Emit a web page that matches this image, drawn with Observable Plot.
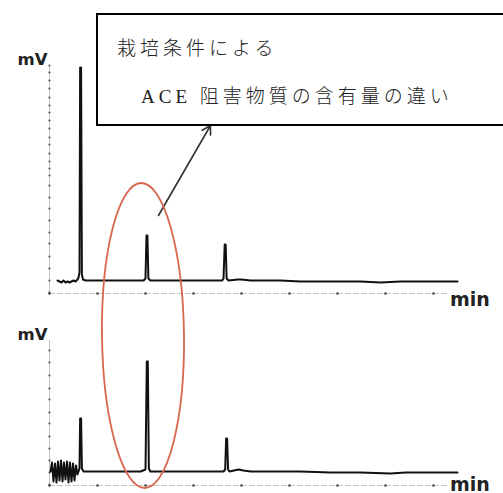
<!DOCTYPE html>
<html><head><meta charset="utf-8">
<script src="https://cdn.jsdelivr.net/npm/d3@7"></script>
<script src="https://cdn.jsdelivr.net/npm/@observablehq/plot@0.6"></script>
<style>
html,body{margin:0;padding:0;background:#fff;overflow:hidden;}
#wrap{position:relative;width:503px;height:493px;overflow:hidden;background:#fff;}
#wrap svg{position:absolute;left:0;overflow:visible;}
.box{position:absolute;left:96px;top:13px;width:420px;height:109px;border:2px solid #000;border-right:none;background:#fff;
 font-family:"Liberation Serif","Noto Sans CJK JP",serif;font-size:19px;font-weight:300;line-height:20px;color:#222;letter-spacing:4px;white-space:nowrap;}
.l1{position:absolute;left:19px;top:24px;}
.l2{position:absolute;left:43px;top:72px;}
</style></head>
<body><div id="wrap"></div>
<script>
// Retention time (min) and signal (mV, arbitrary) — upper chromatogram
const topT  = [0.167,0.208,0.25,0.292,0.333,0.375,0.417,0.458,0.5,0.542,0.583,0.604,0.625,0.638,0.658,0.675,0.698,0.75,1.06,1.48,1.96,2.0,2.02,2.04,2.06,2.1,2.73,3.6,3.625,3.65,3.67,3.69,3.73,3.92,4.0,4.19,4.81,5.23,5.85,6.48,6.9,7.31,7.73,8.15,8.5];
const topMV = [0,-1,-2,0,-2,-1,-2,-1,0,-1,1,3,8,213,213,6,1,0,0,0,0,2,45,45,2,0,0,0,2,36,36,2,0,1,1,0,0,-1,-1,-1,-2,-1,-1,-1,-1];
// Lower chromatogram
const botT  = [0.021,0.052,0.083,0.115,0.146,0.177,0.208,0.24,0.271,0.302,0.333,0.365,0.396,0.427,0.458,0.49,0.521,0.552,0.583,0.604,0.625,0.638,0.658,0.675,0.71,1.06,1.9,2.0,2.027,2.048,2.07,2.1,2.73,3.625,3.66,3.68,3.7,3.72,3.75,3.94,4.04,4.19,5.23,5.85,6.48,7.1,7.42,7.73,8.5];
const botMV = [0,9,-10,8,-11,10,-9,11,-10,9,-8,10,-11,9,-10,8,-9,6,-3,0,3,53,53,3,0,0,0,2,110,110,3,0,0,0,2,33,33,2,0,2,1,0,0,-1,-1,-2,-1,-1,-1];
// Axis tick positions (mV)
const topTicksY = [215,208,200,192,183,175,168,160,152,143,136,127,119,112,105,95,83,72,60,48,37,24,12,0,-12];
const botTicksY = [121,109,96,83,72,59,48,35,23,11,-1,-13];
const xTicks = [0,1,2,3,4,5,6,7,8];
const noteLine1 = "栽培条件による";
const noteLine2 = "ACE 阻害物質の含有量の違い";

const topData = topT.map((t,i)=>({t, v: topMV[i]}));
const botData = botT.map((t,i)=>({t, v: botMV[i]}));

function panel(data, ticksY, yDomain, yRange, height, minDy, minAnchor, extra) {
  const y0 = yDomain[0];
  return Plot.plot({
    width: 503, height,
    marginTop: 0, marginBottom: 0, marginLeft: 0, marginRight: 0,
    x: {domain: [0, 9.458], range: [49, 503], axis: null},
    y: {domain: yDomain, range: yRange, axis: null},
    style: {overflow: "visible", background: "transparent"},
    marks: [
      Plot.ruleX([0], {y1: y0, y2: yDomain[1], stroke: "#c4c4c4", strokeWidth: 1}),
      Plot.ruleY([y0], {x1: 0, x2: 8.3, stroke: "#c4c4c4", strokeWidth: 1, strokeDasharray: "6,2"}),
      Plot.dot(ticksY, {x: 0, y: d => d, r: 1.1, fill: "#555", stroke: null}),
      Plot.dot(xTicks, {x: d => d, y: y0, r: 1.3, fill: "#444", stroke: null}),
      Plot.line(data, {x: "t", y: "v", stroke: "#111", strokeWidth: 2, curve: "linear"}),
      Plot.text(["mV"], {x: 0, y: yDomain[1], dx: -17, dy: -6, fontFamily: "DejaVu Sans, sans-serif", fontWeight: "bold", fontSize: 16.5, fill: "#222", textAnchor: "middle"}),
      Plot.text(["min"], {x: 8.3, y: y0, dx: 22, dy: minDy, lineAnchor: minAnchor, fontFamily: "DejaVu Sans, sans-serif", fontWeight: "bold", fontSize: 19, fill: "#222", textAnchor: "middle"}),
      ...(extra || [])
    ]
  });
}

const wrap = document.getElementById("wrap");
const topPlot = panel(topData, topTicksY, [-13, 215], [293, 65], 300, 6, "middle", [
  Plot.arrow([{x1: 2.27, y1: 65, x2: 3.354, y2: 155}], {x1: "x1", y1: "y1", x2: "x2", y2: "y2", stroke: "#333", strokeWidth: 1.6, headLength: 9})
]);
topPlot.style.top = "0px";
const botPlot = panel(botData, botTicksY, [-14, 131], [185, 40], 193, 5, "bottom");
botPlot.style.top = "300px";
wrap.appendChild(topPlot);
wrap.appendChild(botPlot);

const box = document.createElement("div");
box.className = "box";
box.innerHTML = `<div class="l1"></div><div class="l2"></div>`;
box.querySelector(".l1").textContent = noteLine1;
box.querySelector(".l2").textContent = noteLine2;
wrap.appendChild(box);

// red ellipse highlighting the second peak in both runs
const ov = d3.select(wrap).append("svg").attr("width", 503).attr("height", 493).style("top", "0px").style("pointer-events", "none");
ov.append("ellipse").attr("cx", 143).attr("cy", 335.5).attr("rx", 41).attr("ry", 152.5)
  .attr("transform", "rotate(-0.7 143 335.5)")
  .attr("fill", "none").attr("stroke", "#d9664f").attr("stroke-width", 1.8);
</script></body></html>
